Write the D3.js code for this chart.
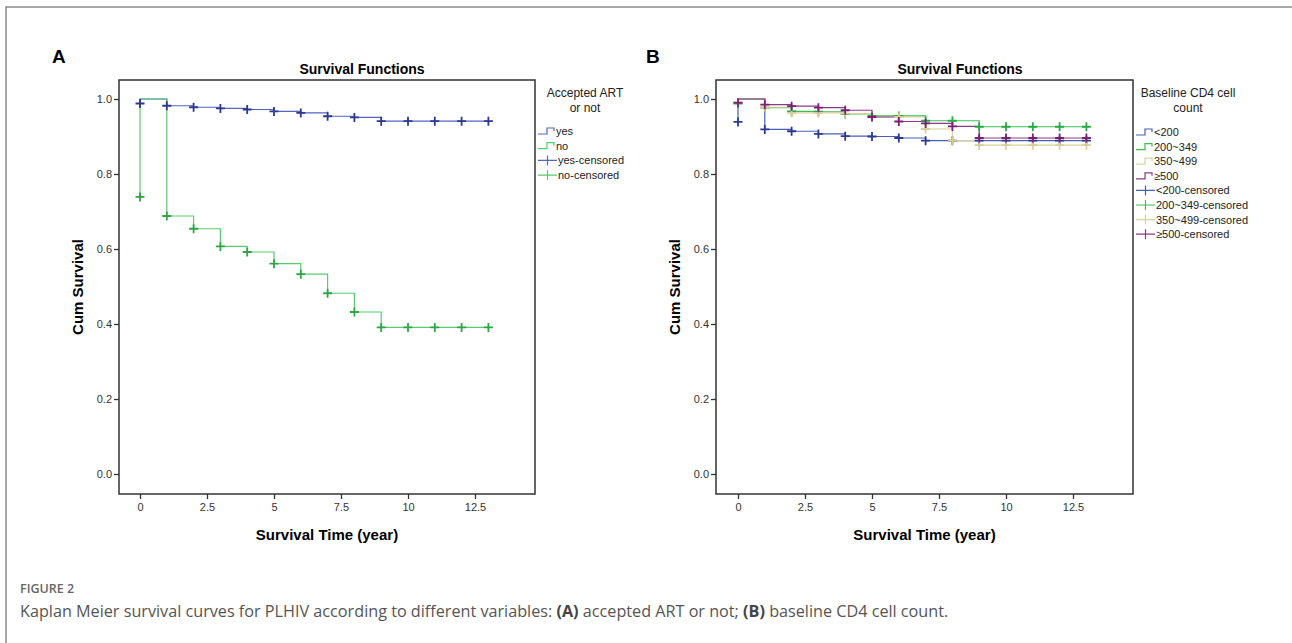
<!DOCTYPE html>
<html>
<head>
<meta charset="utf-8">
<script src="https://cdn.jsdelivr.net/npm/d3@7"></script>
<style>
  body { margin: 0; background: #fff; }
  svg { display: block; }
  .tick text { font-family: "Liberation Sans", Arial, sans-serif; font-size: 11px; fill: #333; }
</style>
</head>
<body>
<div id="chart"></div>
<script>
// Survival time (years) where the curves step / carry censor marks
var years = [0, 1, 2, 3, 4, 5, 6, 7, 8, 9, 10, 11, 12, 13];
var xTicks = [0, 2.5, 5, 7.5, 10, 12.5];
var yTicks = [0.0, 0.2, 0.4, 0.6, 0.8, 1.0];

// Panel A - accepted ART or not
var artGroups = ['yes', 'no'];
var artYes = [0.988, 0.982, 0.978, 0.975, 0.972, 0.967, 0.963, 0.954, 0.951, 0.941, 0.941, 0.941, 0.941, 0.941];
var artNo  = [0.739, 0.688, 0.654, 0.607, 0.592, 0.561, 0.533, 0.482, 0.432, 0.391, 0.391, 0.391, 0.391, 0.391];

// Panel B - baseline CD4 cell count
var cd4Groups = ['<200', '200~349', '350~499', '≥500'];
var cd4Lt200   = [0.939, 0.919, 0.914, 0.907, 0.901, 0.900, 0.896, 0.889, 0.889, 0.889, 0.889, 0.889, 0.889, 0.889];
var cd4To349   = [0.988, 0.977, 0.967, 0.966, 0.960, 0.955, 0.955, 0.942, 0.942, 0.926, 0.926, 0.926, 0.926, 0.926];
var cd4To499   = [0.990, 0.978, 0.963, 0.963, 0.961, 0.952, 0.952, 0.920, 0.889, 0.877, 0.877, 0.877, 0.877, 0.877];
var cd4Ge500   = [0.990, 0.985, 0.981, 0.977, 0.970, 0.952, 0.940, 0.935, 0.927, 0.896, 0.896, 0.896, 0.896, 0.896];

var caption = 'Kaplan Meier survival curves for PLHIV according to different variables: ';

const W = 1292, H = 643;
const font = '"Liberation Sans", Arial, sans-serif';

var svg = d3.select('#chart').append('svg')
    .attr('width', W).attr('height', H);

// outer figure frame (top + left edge)
svg.append('path')
    .attr('d', `M6,${H} V7 H${W}`)
    .attr('fill', 'none')
    .attr('stroke', '#8a8a8a')
    .attr('stroke-width', 1.5);

function drawPanel(opt) {
  var g = svg.append('g');

  var x = d3.scaleLinear().domain([0, 12.5]).range([opt.x0, opt.x0 + 335]);
  var y = d3.scaleLinear().domain([0, 1]).range([474, 99]);

  // panel letter + title
  g.append('text')
    .attr('x', opt.letterX).attr('y', 63)
    .attr('font-family', font).attr('font-size', 19).attr('font-weight', 'bold')
    .text(opt.letter);
  g.append('text')
    .attr('x', opt.titleX).attr('y', 74)
    .attr('text-anchor', 'middle')
    .attr('font-family', font).attr('font-size', 14).attr('font-weight', 'bold')
    .text('Survival Functions');

  // axes
  var xAxis = d3.axisBottom(x).tickValues(xTicks).tickSize(5).tickPadding(4)
      .tickFormat(d3.format('~g'));
  g.append('g')
    .attr('transform', `translate(0, ${opt.boxBottom})`)
    .call(xAxis)
    .call(a => a.select('.domain').remove())
    .call(a => a.selectAll('line').attr('stroke', '#333').attr('stroke-width', 1.3));

  var yAxis = d3.axisLeft(y).tickValues(yTicks).tickSize(5).tickPadding(2)
      .tickFormat(d3.format('.1f'));
  g.append('g')
    .attr('transform', `translate(${opt.boxLeft}, 0)`)
    .call(yAxis)
    .call(a => a.select('.domain').remove())
    .call(a => a.selectAll('line').attr('stroke', '#333').attr('stroke-width', 1.3));

  // plot frame
  g.append('rect')
    .attr('x', opt.boxLeft).attr('y', 80)
    .attr('width', opt.boxRight - opt.boxLeft).attr('height', opt.boxBottom - 80)
    .attr('fill', 'none').attr('stroke', '#333').attr('stroke-width', 1.5);

  // axis titles
  g.append('text')
    .attr('x', (opt.boxLeft + opt.boxRight) / 2).attr('y', 540)
    .attr('text-anchor', 'middle')
    .attr('font-family', font).attr('font-size', 15).attr('font-weight', 'bold')
    .text('Survival Time (year)');
  g.append('text')
    .attr('transform', `translate(${opt.boxLeft - 36}, 287) rotate(-90)`)
    .attr('text-anchor', 'middle')
    .attr('font-family', font).attr('font-size', 15).attr('font-weight', 'bold')
    .text('Cum Survival');

  // step curves: start at S=1 at t=0, drop at t=0, hold 1 until t=1 (as drawn by SPSS)
  var line = d3.line()
      .curve(d3.curveStepAfter)
      .x(d => x(d[0]))
      .y(d => y(d[1]));

  opt.series.forEach(function (s) {
    var pts = [[years[0], s.values[0]], [years[0], 1]];
    for (let i = 1; i < years.length; i++) pts.push([years[i], s.values[i]]);
    g.append('path')
      .datum(pts)
      .attr('fill', 'none')
      .attr('stroke', s.line)
      .attr('stroke-width', 1.2)
      .attr('d', line);
  });

  // censor marks
  opt.series.forEach(function (s) {
    var m = g.append('g');
    m.selectAll('path')
      .data(years.map((t, i) => [t, s.values[i]]))
      .enter()
      .append('path')
      .attr('d', d => `M${x(d[0]) - 4.5},${y(d[1])} h9 M${x(d[0])},${y(d[1]) - 4.5} v9`)
      .attr('stroke', s.mark)
      .attr('stroke-width', 1.8)
      .attr('fill', 'none');
  });

  // legend
  var lg = g.append('g');
  opt.legendTitle.forEach(function (t, i) {
    lg.append('text')
      .attr('x', opt.legendTitleX).attr('y', 97 + i * 14.5)
      .attr('text-anchor', 'middle')
      .attr('font-family', font).attr('font-size', 12).attr('fill', '#222')
      .text(t);
  });
  var items = [];
  opt.series.forEach(s => items.push({ type: 'step', s: s, label: s.name }));
  opt.series.forEach(s => items.push({ type: 'cens', s: s, label: s.name + '-censored' }));
  items.forEach(function (it, i) {
    var ly = opt.legendY0 + i * opt.legendStep;
    var lx = opt.legendX;
    if (it.type === 'step') {
      lg.append('path')
        .attr('d', `M${lx},${ly + 3} H${lx + 9} V${ly - 3} H${lx + 16} V${ly}`)
        .attr('fill', 'none').attr('stroke', it.s.line).attr('stroke-width', 1.2);
    } else {
      lg.append('path')
        .attr('d', `M${lx},${ly} H${lx + 19} M${lx + 9.5},${ly - 5} V${ly + 5}`)
        .attr('fill', 'none').attr('stroke', it.s.line).attr('stroke-width', 1.2);
    }
    lg.append('text')
      .attr('x', lx + (it.type === 'step' ? 18 : 20)).attr('y', ly + 4)
      .attr('font-family', font).attr('font-size', 11).attr('fill', '#222')
      .text(it.label);
  });
}

drawPanel({
  letter: 'A', letterX: 52, titleX: 362,
  x0: 140, boxLeft: 119, boxRight: 535, boxBottom: 494,
  legendTitle: ['Accepted ART', 'or not'], legendTitleX: 585,
  legendX: 538, legendY0: 131, legendStep: 14.7,
  series: [
    { name: artGroups[0], values: artYes, line: '#5565bf', mark: '#2b3990' },
    { name: artGroups[1], values: artNo,  line: '#55cc70', mark: '#2fa546' }
  ]
});

drawPanel({
  letter: 'B', letterX: 646, titleX: 960,
  x0: 738, boxLeft: 716, boxRight: 1133, boxBottom: 494,
  legendTitle: ['Baseline CD4 cell', 'count'], legendTitleX: 1188,
  legendX: 1136, legendY0: 132, legendStep: 14.6,
  series: [
    { name: cd4Groups[0], values: cd4Lt200, line: '#4a5fb5', mark: '#2b3990' },
    { name: cd4Groups[1], values: cd4To349, line: '#3cbf56', mark: '#29a843' },
    { name: cd4Groups[2], values: cd4To499, line: '#d8d29e', mark: '#d6cf98' },
    { name: cd4Groups[3], values: cd4Ge500, line: '#8a3a8a', mark: '#7a1f72' }
  ]
});

// caption
var cap = svg.append('g').attr('font-family', '"Open Sans", Lato, sans-serif');
cap.append('text')
  .attr('x', 20).attr('y', 593)
  .attr('font-size', 12.5).attr('font-weight', 600).attr('fill', '#666')
  .text('FIGURE 2');
var ct = cap.append('text')
  .attr('x', 20).attr('y', 617)
  .attr('font-size', 16.2).attr('fill', '#555');
ct.append('tspan').text(caption);
ct.append('tspan').attr('font-weight', 'bold').attr('fill', '#444').text('(A)');
ct.append('tspan').text(' accepted ART or not; ');
ct.append('tspan').attr('font-weight', 'bold').attr('fill', '#444').text('(B)');
ct.append('tspan').text(' baseline CD4 cell count.');
</script>
</body>
</html>
